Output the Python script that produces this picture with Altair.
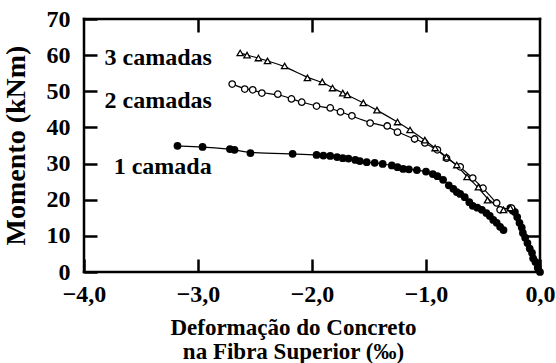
import altair as alt
import pandas as pd

# Series data (deformation in per mille, moment in kNm)
x1 = [-3.18, -2.96, -2.72, -2.68, -2.54, -2.17, -1.96, -1.90, -1.84, -1.78, -1.73, -1.68, -1.62, -1.58,
      -1.52, -1.45, -1.38, -1.30, -1.25, -1.20, -1.15, -1.08, -1.00, -0.94, -0.90, -0.85, -0.80,
      -0.76, -0.73, -0.70, -0.66, -0.62, -0.59, -0.55, -0.51, -0.47, -0.44, -0.41, -0.38, -0.35, -0.32]
y1 = [34.9, 34.6, 34.0, 33.8, 32.9, 32.7, 32.4, 32.2, 32.1, 31.8, 31.5, 31.4, 31.0, 30.7,
      30.4, 30.2, 29.9, 29.5, 29.0, 28.5, 28.4, 28.2, 27.8, 27.1, 26.5, 25.5, 24.0,
      23.0, 22.1, 21.6, 20.7, 19.3, 18.3, 17.8, 17.2, 16.3, 15.5, 14.4, 13.6, 12.5, 11.6]

x2 = [-2.70, -2.59, -2.52, -2.44, -2.30, -2.18, -2.09, -1.96, -1.84, -1.75, -1.65, -1.49, -1.34,
      -1.25, -1.10, -1.01, -0.90, -0.82, -0.70, -0.59, -0.50, -0.38, -0.35, -0.25]
y2 = [52.0, 50.6, 50.4, 49.5, 49.2, 47.9, 47.0, 45.9, 45.4, 44.3, 43.2, 41.2, 40.4,
      38.7, 36.8, 35.7, 33.8, 31.5, 29.1, 26.0, 23.2, 19.1, 17.2, 17.7]

x3 = [-2.63, -2.57, -2.47, -2.39, -2.24, -2.04, -1.91, -1.82, -1.73, -1.69, -1.55, -1.43, -1.25,
      -1.14, -1.01, -0.92, -0.82, -0.73, -0.64, -0.54, -0.46, -0.32, -0.26]
y3 = [60.6, 60.0, 59.2, 58.4, 57.0, 53.7, 52.6, 50.9, 49.5, 49.0, 46.8, 44.8, 41.5,
      39.3, 36.5, 34.3, 31.8, 29.6, 26.3, 23.5, 19.9, 17.2, 17.7]

# initial (shared) branch near the origin
xt = [-0.26, -0.24, -0.22, -0.20, -0.18, -0.16, -0.15, -0.13, -0.11, -0.09, -0.07, -0.06, -0.04, -0.02, 0.0]
yt = [17.7, 17.0, 16.6, 15.2, 13.6, 12.3, 10.8, 9.5, 8.0, 6.5, 5.3, 3.8, 2.8, 1.2, 0.0]

label_text = ["3 camadas", "2 camadas", "1 camada"]
label_x = [-3.82, -3.82, -3.74]
label_y = [59.2, 47.3, 29.1]

x_ticks = [-3, -2, -1]
y_ticks = [10, 20, 30, 40, 50, 60]
x_labels = [-4, -3, -2, -1, 0]
y_labels = [0, 10, 20, 30, 40, 50, 60, 70]
x_min, x_max = -4, 0
y_min, y_max = 0, 70

FONT = "Liberation Serif"
W, H = 456, 253
TL = 13  # inward tick length (px)

d1 = pd.DataFrame({"x": x1, "y": y1})
d2 = pd.DataFrame({"x": x2, "y": y2})
d3 = pd.DataFrame({"x": x3, "y": y3})
dt = pd.DataFrame({"x": xt, "y": yt})
line2 = pd.DataFrame({"x": x2 + xt, "y": y2 + yt})
line3 = pd.DataFrame({"x": x3 + xt, "y": y3 + yt})
labels = pd.DataFrame({"t": label_text, "x": label_x, "y": label_y})
frame = pd.DataFrame({"x": [x_min, x_min, x_min, x_max],
                      "x2": [x_max, x_max, x_min, x_max],
                      "y": [y_min, y_max, y_min, y_min],
                      "y2": [y_min, y_max, y_max, y_max]})

xscale = alt.Scale(domain=[x_min, x_max], nice=False, zero=False)
yscale = alt.Scale(domain=[y_min, y_max], nice=False, zero=False)

tick_style = dict(ticks=True, tickSize=TL, tickWidth=2.5, tickColor="black",
                  offset=-TL, domain=False, grid=False, zindex=2)

xaxis = alt.Axis(
    orient="bottom", values=x_labels, labelExpr="replace(format(datum.value, '.1f'), '.', ',')",
    labelFlush=False, labelOverlap=False, labelPadding=10,
    labelFont=FONT, labelFontSize=24, labelFontWeight="bold", labelColor="black",
    title=["Deformação do Concreto", "na Fibra Superior (‰)"],
    titleFont=FONT, titleFontWeight="bold", titleColor="black",
    titleFontSize=23, titleX=209, titleY=62 + TL, titleBaseline="alphabetic", titleAlign="center",
    titleLineHeight=24, **tick_style)
yaxis = alt.Axis(
    orient="left", values=y_labels, labelOverlap=False,
    labelFont=FONT, labelFontSize=24, labelFontWeight="bold", labelColor="black",
    labelPadding=14, title="Momento (kNm)",
    titleFont=FONT, titleFontWeight="bold", titleColor="black",
    titleFontSize=28, titleX=-68 - TL, titleY=126,
    titleAngle=-90, titleBaseline="middle", titleAlign="center", **tick_style)
xaxis_top = alt.Axis(orient="top", values=x_ticks, labels=False, title=None, **tick_style)
yaxis_right = alt.Axis(orient="right", values=y_ticks, labels=False, title=None, **tick_style)

X = alt.X("x:Q", scale=xscale, axis=xaxis)
Y = alt.Y("y:Q", scale=yscale, axis=yaxis)

data_layer = alt.layer(
    alt.Chart(d1).mark_line(color="black", strokeWidth=1.2, interpolate="basis").encode(x=X, y=Y),
    alt.Chart(line2).mark_line(color="black", strokeWidth=1.2, interpolate="basis").encode(x=X, y=Y),
    alt.Chart(line3).mark_line(color="black", strokeWidth=1.2, interpolate="basis").encode(x=X, y=Y),
    alt.Chart(d1).mark_point(shape="circle", filled=True, color="black", size=60, opacity=1).encode(x=X, y=Y),
    alt.Chart(dt).mark_point(shape="circle", filled=True, color="black", size=60, opacity=1).encode(x=X, y=Y),
    alt.Chart(d2).mark_point(shape="circle", fill="white", stroke="black", strokeWidth=1.3,
                             size=42, opacity=1, fillOpacity=1).encode(x=X, y=Y),
    alt.Chart(d3).mark_point(shape="triangle-up", fill="white", stroke="black", strokeWidth=1.3,
                             size=40, opacity=1, fillOpacity=1).encode(x=X, y=Y),
    alt.Chart(labels).mark_text(font=FONT, fontSize=24, fontWeight="bold", color="black",
                                align="left", baseline="middle").encode(x=X, y=Y, text="t:N"),
)

frame_layer = alt.Chart(frame).mark_rule(color="black", strokeWidth=2.5, strokeCap="square").encode(
    x=alt.X("x:Q", scale=xscale, axis=xaxis_top), x2="x2:Q",
    y=alt.Y("y:Q", scale=yscale, axis=yaxis_right), y2="y2:Q")

chart = alt.layer(data_layer, frame_layer).resolve_axis(
    x="independent", y="independent"
).properties(
    width=W, height=H,
    autosize=alt.AutoSizeParams(type="none"),
    padding={"left": 84, "top": 19, "right": 16, "bottom": 91},
    background="white",
).configure_view(
    stroke="black", strokeWidth=2
)

chart.save("out.html", embed_options={"renderer": "svg", "actions": False})
